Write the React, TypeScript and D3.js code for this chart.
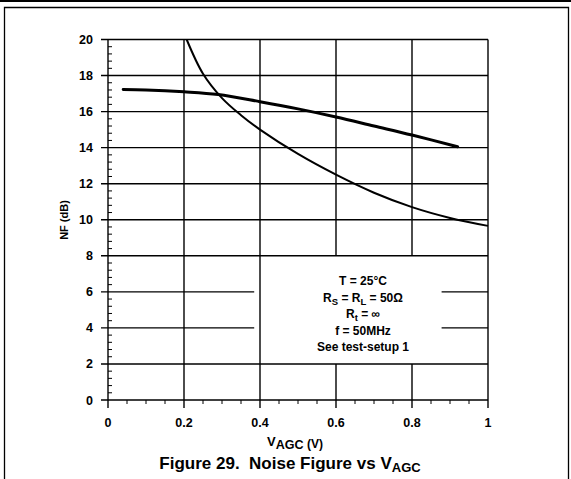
import React from "react";
import * as d3 from "d3";

const xTicks = [0, 0.2, 0.4, 0.6, 0.8, 1];
const xTickLabels = ["0", "0.2", "0.4", "0.6", "0.8", "1"];
const yTicks = [0, 2, 4, 6, 8, 10, 12, 14, 16, 18, 20];

// Upper thick curve
const c1X = [0.04, 0.1, 0.2, 0.29, 0.4, 0.5, 0.6, 0.7, 0.8, 0.92];
const c1Y = [17.22, 17.2, 17.1, 16.95, 16.55, 16.15, 15.7, 15.2, 14.7, 14.05];
// Steep falling curve
const c2X = [0.207, 0.25, 0.3, 0.35, 0.4, 0.5, 0.6, 0.7, 0.8, 0.9, 1.0];
const c2Y = [20, 18.1, 16.75, 15.8, 15.0, 13.65, 12.5, 11.5, 10.7, 10.1, 9.66];

const annotationLines = ["T = 25°C", "RS = RL = 50Ω", "Rt = ∞", "f = 50MHz", "See test-setup 1"];

export default function App() {
  const x = d3.scaleLinear().domain([0, 1]).range([108, 488]);
  const y = d3.scaleLinear().domain([0, 20]).range([400, 39.5]);
  const font = "'Liberation Sans', Arial, Helvetica, sans-serif";

  const line = d3
    .line<[number, number]>()
    .x((d) => x(d[0]))
    .y((d) => y(d[1]))
    .curve(d3.curveCatmullRom.alpha(0.5));

  const d1 = line(c1X.map((v, i) => [v, c1Y[i]] as [number, number])) || "";
  const d2 = line(c2X.map((v, i) => [v, c2Y[i]] as [number, number])) || "";

  // gap around annotation
  const gapX0 = 0.49, gapX1 = 0.87, gapY0 = 2, gapY1 = 8;

  const xMinor = d3.range(0, 1.0001, 0.05).filter((v) => Math.abs(v * 5 - Math.round(v * 5)) > 1e-6);
  const yMinor = d3.range(0, 20.0001, 0.4).filter((v) => Math.abs(v / 2 - Math.round(v / 2)) > 1e-6);

  const hLines: JSX.Element[] = [];
  yTicks.forEach((t) => {
    const yy = y(t);
    if (t > gapY0 && t < gapY1) {
      hLines.push(<line key={"h" + t + "a"} x1={101} x2={x(gapX0) - 40} y1={yy} y2={yy} />);
      hLines.push(<line key={"h" + t + "b"} x1={x(gapX1) + 3} x2={x(1)} y1={yy} y2={yy} />);
    } else {
      hLines.push(<line key={"h" + t} x1={101} x2={x(1)} y1={yy} y2={yy} />);
    }
  });

  const vLines: JSX.Element[] = [];
  xTicks.forEach((t) => {
    const xx = x(t);
    if (t > gapX0 && t < gapX1) {
      vLines.push(<line key={"v" + t + "a"} x1={xx} x2={xx} y1={y(20)} y2={y(gapY1)} />);
      vLines.push(<line key={"v" + t + "b"} x1={xx} x2={xx} y1={y(gapY0)} y2={408} />);
    } else {
      vLines.push(<line key={"v" + t} x1={xx} x2={xx} y1={y(20)} y2={408} />);
    }
  });

  const annX = 363;
  const annY0 = 285;
  const annStep = 16.5;

  return (
    <svg width={571} height={479} style={{ position: "absolute", left: 0, top: 0, background: "#fff" }}>
      <rect x={0} y={0} width={571} height={479} fill="#fff" />
      {/* page top rule and frame */}
      <line x1={0} x2={571} y1={1} y2={1} stroke="#000" strokeWidth={2} />
      <path d="M4.5,479 V7.5 H568.5 V479" fill="none" stroke="#000" strokeWidth={1.3} />

      <g stroke="#000" strokeWidth={1.4}>
        {hLines}
        {vLines}
      </g>
      <g stroke="#000" strokeWidth={1}>
        {yMinor.map((t) => (
          <line key={"ym" + t} x1={x(0)} x2={x(0) + 4} y1={y(t)} y2={y(t)} />
        ))}
        {xMinor.map((t) => (
          <line key={"xm" + t} x1={x(t)} x2={x(t)} y1={y(0)} y2={y(0) + 4} />
        ))}
      </g>

      <path d={d1} fill="none" stroke="#000" strokeWidth={3} strokeLinecap="round" />
      <path d={d2} fill="none" stroke="#000" strokeWidth={2} />

      <g fontFamily={font} fontWeight="bold" fontSize={12.5} fill="#000">
        {yTicks.map((t) => (
          <text key={"yl" + t} x={93} y={y(t) + 4.5} textAnchor="end">
            {t}
          </text>
        ))}
        {xTicks.map((t, i) => (
          <text key={"xl" + t} x={x(t)} y={427} textAnchor="middle">
            {xTickLabels[i]}
          </text>
        ))}
      </g>
      <g fontFamily={font} fontWeight="bold" fill="#000">
        <text transform={`translate(68,220) rotate(-90)`} textAnchor="middle" fontSize={11}>
          NF (dB)
        </text>
        <text x={295} y={446} textAnchor="middle" fontSize={13}>
          V<tspan fontSize={12.5} dy={3}>AGC</tspan>
          <tspan dy={-1} fontSize={12}> (V)</tspan>
        </text>
      </g>

      <g fontFamily={font} fontWeight="bold" fontSize={12} fill="#000" textAnchor="middle">
        <text x={annX} y={annY0}>{annotationLines[0]}</text>
        <text x={annX} y={annY0 + annStep}>
          R<tspan fontSize={9.5} dy={3}>S</tspan>
          <tspan dy={-3}> = R</tspan>
          <tspan fontSize={9.5} dy={3}>L</tspan>
          <tspan dy={-3}> = 50Ω</tspan>
        </text>
        <text x={annX} y={annY0 + annStep * 2}>
          R<tspan fontSize={9.5} dy={3}>t</tspan>
          <tspan dy={-3}> = ∞</tspan>
        </text>
        <text x={annX} y={annY0 + annStep * 3}>{annotationLines[3]}</text>
        <text x={annX} y={annY0 + annStep * 4}>{annotationLines[4]}</text>
      </g>

      <text x={290} y={469} textAnchor="middle" fontFamily={font} fontWeight="bold" fontSize={17} fill="#000">
        Figure 29.{"\u00a0\u00a0"}Noise Figure vs V
        <tspan fontSize={13} dy={3}>AGC</tspan>
      </text>
    </svg>
  );
}
